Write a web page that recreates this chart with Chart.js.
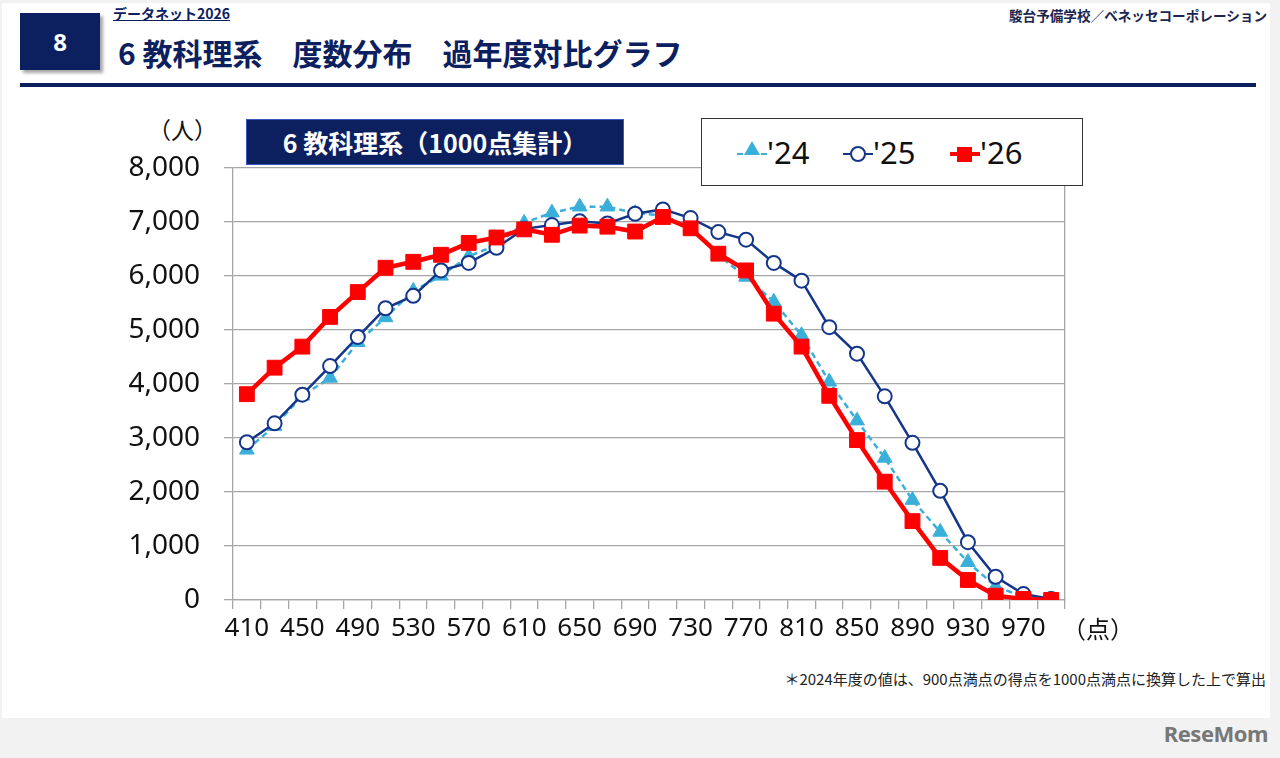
<!DOCTYPE html>
<html lang="ja">
<head>
<meta charset="utf-8">
<script src="https://cdn.jsdelivr.net/npm/chart.js@4"></script>
<style>
  html, body { margin: 0; padding: 0; }
  body { width: 1280px; height: 758px; background: #f2f2f2; position: relative; overflow: hidden;
         font-family: "Noto Sans CJK JP", "Noto Sans", sans-serif; }
  #slide { position: absolute; left: 2px; top: 3px; width: 1268px; height: 715px; background: #fff; }
  .abs { position: absolute; white-space: nowrap; }
  #nr { left: 20px; top: 13px; width: 80px; height: 57px; background: #0c2060; color: #fff;
        font: bold 24px "Noto Sans", sans-serif; text-align: center; line-height: 57px;
        box-shadow: 3px 3px 3px rgba(0,0,0,0.35); }
  #kopf { left: 113px; top: 3px; font-size: 14px; font-weight: bold; color: #0c2060; text-decoration: underline; }
  #titel { left: 118px; top: 30px; font-size: 30px; font-weight: bold; color: #0c2060; }
  #quelle { right: 13px; top: 5px; font-size: 13.6px; font-weight: bold; color: #1a2550; }
  #linie { left: 20px; top: 83px; width: 1236px; height: 4px; background: #0c2060; }
  #person { left: 148px; top: 112px; font-size: 23px; color: #111; }
  #kasten { left: 246px; top: 119px; width: 376px; height: 44px; background: #0c2060; border: 1px solid #3a56c0;
            color: #fff; font-size: 25px; font-weight: bold; text-align: center; line-height: 44px; }
  #legende { left: 701px; top: 118px; width: 380px; height: 66px; border: 1.5px solid #333; background: #fff; }
  .eintrag { position: absolute; top: 0; height: 66px; }
  .strich { position: absolute; top: 34px; width: 30px; }
  .txt { position: absolute; top: 12px; font: 31px "Noto Sans", sans-serif; color: #111; }
  #punkt { left: 1062px; top: 610px; font-size: 24px; color: #111; }
  #fuss { right: 14px; top: 668px; font-size: 15px; color: #222; }
  #logo { right: 12px; top: 718px; font: bold 22px "Noto Sans", sans-serif; color: #777; letter-spacing: -0.5px; }
  #diagramm { position: absolute; left: 100px; top: 127px; }
</style>
</head>
<body>
<div id="slide"></div>
<div class="abs" id="nr">8</div>
<div class="abs" id="kopf">データネット2026</div>
<div class="abs" id="titel">6 教科理系　度数分布　過年度対比グラフ</div>
<div class="abs" id="quelle">駿台予備学校／ベネッセコーポレーション</div>
<div class="abs" id="linie"></div>
<div class="abs" id="person">（人）</div>

<canvas id="diagramm" width="1020" height="533"></canvas>

<div class="abs" id="kasten">6 教科理系（1000点集計）</div>
<div class="abs" id="legende">
  <div class="eintrag" style="left:35px">
    <div class="strich" style="border-top:2.5px dashed #3aafd9"></div>
    <div style="position:absolute;left:7px;top:22px;width:0;height:0;border-left:8px solid transparent;border-right:8px solid transparent;border-bottom:14px solid #3aafd9"></div>
    <div class="txt" style="left:30px">'24</div>
  </div>
  <div class="eintrag" style="left:141px">
    <div class="strich" style="border-top:2.5px solid #14368a"></div>
    <div style="position:absolute;left:7px;top:27px;width:12px;height:12px;border-radius:50%;border:2px solid #14368a;background:#fff"></div>
    <div class="txt" style="left:30px">'25</div>
  </div>
  <div class="eintrag" style="left:248px">
    <div class="strich" style="border-top:4.5px solid #ff0000;top:33px"></div>
    <div style="position:absolute;left:7px;top:28px;width:15px;height:15px;background:#ff0000"></div>
    <div class="txt" style="left:30px">'26</div>
  </div>
</div>

<div class="abs" id="punkt">（点）</div>
<div class="abs" id="fuss">＊2024年度の値は、900点満点の得点を1000点満点に換算した上で算出</div>
<div class="abs" id="logo">ReseMom</div>

<script>
// Punkte (Klassenmitte), 410 bis 990
const punkte = ["410", "430", "450", "470", "490", "510", "530", "550", "570", "590",
                "610", "630", "650", "670", "690", "710", "730", "750", "770", "790",
                "810", "830", "850", "870", "890", "910", "930", "950", "970", "990"];

const werte24 = [2780, 3220, 3780, 4110, 4770, 5230, 5720, 6000, 6360, 6570,
                 6980, 7170, 7280, 7280, 7160, 7120, 6900, 6380, 5980, 5520,
                 4900, 4040, 3320, 2630, 1850, 1260, 700, 250, 60, 10];

const werte25 = [2920, 3270, 3800, 4330, 4870, 5400, 5630, 6100, 6240, 6520,
                 6870, 6940, 7010, 6970, 7150, 7230, 7070, 6810, 6670, 6240,
                 5910, 5050, 4560, 3770, 2910, 2020, 1070, 430, 110, 20];

const werte26 = [3810, 4300, 4690, 5240, 5700, 6150, 6260, 6390, 6610, 6710,
                 6860, 6760, 6930, 6910, 6820, 7090, 6880, 6410, 6100, 5300,
                 4690, 3780, 2960, 2190, 1460, 780, 370, 80, 20, 0];

const yTicks = [0, 1000, 2000, 3000, 4000, 5000, 6000, 7000, 8000];

const gitter = "#a6a6a6";

const data = {
    labels: punkte,
    datasets: [
        {
            label: "'24",
            data: werte24,
            borderColor: "#3aafd9",
            backgroundColor: "#3aafd9",
            borderWidth: 2.5,
            borderDash: [6, 4],
            pointStyle: "triangle",
            pointRadius: 8.5,
            pointBorderWidth: 1,
            order: 2,
        },
        {
            label: "'25",
            data: werte25,
            borderColor: "#14368a",
            backgroundColor: "#ffffff",
            borderWidth: 2.5,
            pointStyle: "circle",
            pointRadius: 7,
            pointBorderWidth: 2,
            order: 1,
        },
        {
            label: "'26",
            data: werte26,
            borderColor: "#ff0000",
            backgroundColor: "#ff0000",
            borderWidth: 4.5,
            pointStyle: "rect",
            pointRadius: 10.5,
            pointBorderWidth: 1,
            order: 0,
        },
    ],
};

new Chart(document.getElementById("diagramm"), {
    type: "line",
    data: data,
    options: {
        responsive: false,
        animation: false,
        layout: { padding: { top: 0, right: 55, left: 0, bottom: 0 } },
        plugins: { legend: { display: false }, tooltip: { enabled: false } },
        scales: {
            x: {
                offset: true,
                grid: { drawOnChartArea: false, offset: true, tickLength: 9, color: gitter, lineWidth: 1.3 },
                border: { color: gitter, width: 1.3 },
                ticks: {
                    autoSkip: false,
                    maxRotation: 0,
                    minRotation: 0,
                    padding: 4,
                    color: "#111",
                    font: { family: "Noto Sans", size: 26 },
                    callback: function (v, i) { return i % 2 === 0 ? punkte[i] : ""; },
                },
                afterFit: function (s) { s.height = 60; },
            },
            y: {
                min: 0,
                max: 8000,
                afterBuildTicks: function (s) { s.ticks = yTicks.map(function (v) { return { value: v }; }); },
                grid: { color: gitter, lineWidth: 1.3, tickLength: 9 },
                border: { color: gitter, width: 1.3 },
                ticks: {
                    padding: 24,
                    color: "#111",
                    font: { family: "Noto Sans", size: 28 },
                    callback: function (v) { return v.toLocaleString("en-US"); },
                },
                afterFit: function (s) { s.width = 133; },
            },
            y2: {
                position: "right",
                min: 0,
                max: 8000,
                grid: { drawOnChartArea: false, drawTicks: false },
                border: { color: gitter, width: 1.3 },
                ticks: { display: false },
                afterFit: function (s) { s.width = 0; },
            },
        },
    },
});
</script>
</body>
</html>
